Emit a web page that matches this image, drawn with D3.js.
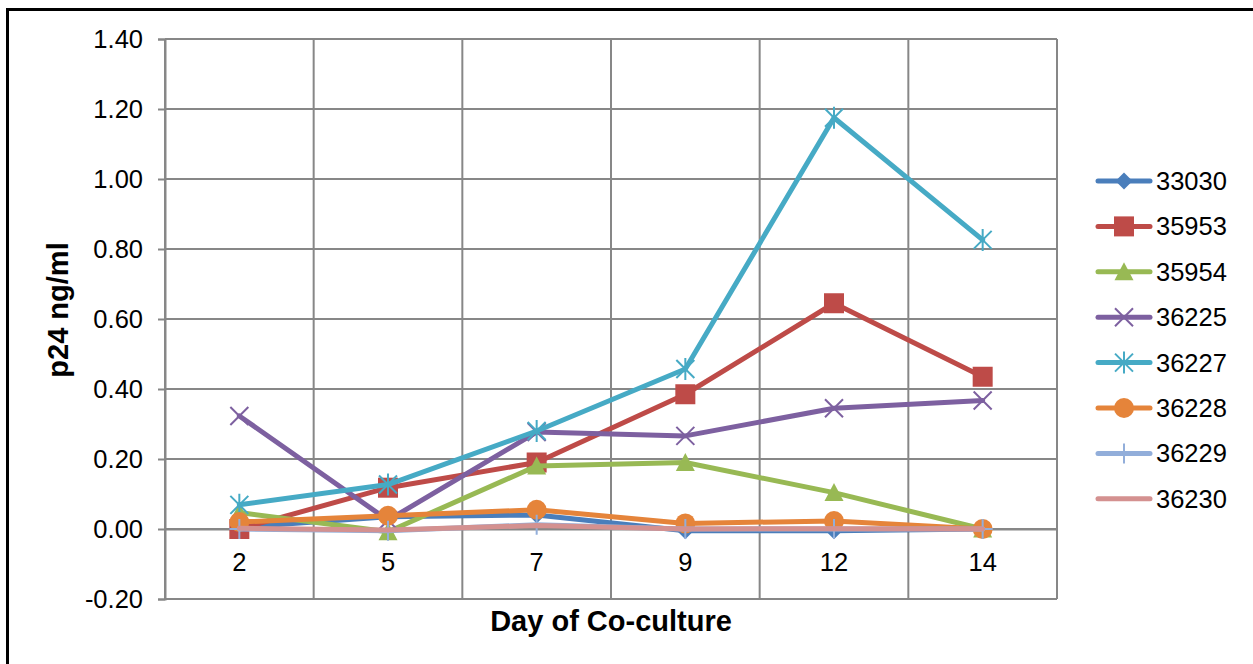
<!DOCTYPE html>
<html>
<head>
<meta charset="utf-8">
<script src="https://cdn.jsdelivr.net/npm/d3@7"></script>
<style>
  html, body { margin: 0; padding: 0; background: #fff; }
  svg { display: block; }
  text { font-family: "Liberation Sans", Arial, sans-serif; fill: #000; }
</style>
</head>
<body>
<svg id="chart" width="1253" height="664"></svg>
<script>
// Days of co-culture (category axis)
const days = ["2", "5", "7", "9", "12", "14"];

// p24 concentration (ng/ml) per sample
const s33030 = [0.005, 0.035, 0.040, -0.005, -0.005, 0.000];
const s35953 = [0.000, 0.118, 0.190, 0.385, 0.645, 0.435];
const s35954 = [0.047, -0.008, 0.180, 0.190, 0.104, 0.000];
const s36225 = [0.323, 0.025, 0.277, 0.266, 0.345, 0.367];
const s36227 = [0.069, 0.127, 0.280, 0.457, 1.175, 0.826];
const s36228 = [0.020, 0.038, 0.055, 0.016, 0.023, 0.000];
const s36229 = [0.000, -0.005, 0.012, 0.000, 0.000, 0.000];
const s36230 = [0.002, -0.003, 0.010, 0.000, 0.001, 0.000];

const seriesNames = ["33030", "35953", "35954", "36225", "36227", "36228", "36229", "36230"];
const seriesValues = [s33030, s35953, s35954, s36225, s36227, s36228, s36229, s36230];
const seriesColors = ["#4A7EBB", "#BE4B48", "#98B954", "#7D60A0", "#46AAC5", "#E5843A", "#92AEDA", "#D49190"];
const seriesMarkers = ["diamond", "square", "triangle", "x", "star", "circle", "plus", "none"];

const yTicks = [-0.20, 0.00, 0.20, 0.40, 0.60, 0.80, 1.00, 1.20, 1.40];

const FONT = "Liberation Sans, Arial, sans-serif";
const svg = d3.select("#chart");

// outer chart frame (right/bottom edges fall outside the canvas)
svg.append("rect")
  .attr("x", 7.5).attr("y", 9.5)
  .attr("width", 1300).attr("height", 700)
  .attr("fill", "none").attr("stroke", "#000").attr("stroke-width", 3);

const plot = { left: 165, top: 39, right: 1057, bottom: 599 };

const x = d3.scaleBand().domain(days).range([plot.left, plot.right]).padding(0);
const y = d3.scaleLinear().domain([-0.2, 1.4]).range([plot.bottom, plot.top]);

const gridColor = "#878787";
const fmt = v => d3.format(".2f")(v).replace("\u2212", "-");

// horizontal gridlines
svg.append("g").selectAll("line").data(yTicks).join("line")
  .attr("x1", plot.left).attr("x2", plot.right)
  .attr("y1", d => y(d)).attr("y2", d => y(d))
  .attr("stroke", gridColor).attr("stroke-width", 2);

// vertical gridlines at category boundaries
const bounds = days.map(d => x(d)).concat([plot.right]);
svg.append("g").selectAll("line").data(bounds).join("line")
  .attr("x1", d => d).attr("x2", d => d)
  .attr("y1", plot.top).attr("y2", plot.bottom)
  .attr("stroke", gridColor).attr("stroke-width", 2);

// value axis
const yAxis = d3.axisLeft(y).tickValues(yTicks).tickFormat(fmt)
  .tickSize(7).tickPadding(15);
const gy = svg.append("g").attr("transform", `translate(${plot.left},0)`).call(yAxis);
gy.select(".domain").attr("stroke", gridColor).attr("stroke-width", 2);
gy.selectAll(".tick line").attr("stroke", gridColor).attr("stroke-width", 2);
gy.selectAll(".tick text").style("font-size", "25.5px").style("font-family", FONT).attr("fill", "#000");

// category labels below the zero line
const xAxis = d3.axisBottom(x).tickSize(0).tickPadding(24);
const gx = svg.append("g").attr("transform", `translate(0,${y(0)})`).call(xAxis);
gx.select(".domain").attr("stroke", gridColor).attr("stroke-width", 2);
gx.selectAll(".tick text").style("font-size", "25.5px").style("font-family", FONT).attr("fill", "#000");

// axis titles
svg.append("text")
  .attr("transform", "translate(68,310) rotate(-90)")
  .attr("text-anchor", "middle")
  .style("font-size", "29px").style("font-weight", "bold")
  .text("p24 ng/ml");
svg.append("text")
  .attr("x", 611).attr("y", 631)
  .attr("text-anchor", "middle")
  .style("font-size", "29px").style("font-weight", "bold")
  .text("Day of Co-culture");

// marker painter
function drawMarker(g, type, cx, cy, color) {
  switch (type) {
    case "diamond":
      g.append("path").attr("d", `M${cx},${cy-8.5}L${cx+8.5},${cy}L${cx},${cy+8.5}L${cx-8.5},${cy}Z`).attr("fill", color);
      break;
    case "square":
      g.append("rect").attr("x", cx-10).attr("y", cy-10).attr("width", 20).attr("height", 20).attr("fill", color);
      break;
    case "triangle":
      g.append("path").attr("d", `M${cx},${cy-9.5}L${cx+9.5},${cy+8.5}L${cx-9.5},${cy+8.5}Z`).attr("fill", color);
      break;
    case "x":
      g.append("path").attr("d", `M${cx-9},${cy-9}L${cx+9},${cy+9}M${cx-9},${cy+9}L${cx+9},${cy-9}`)
        .attr("stroke", color).attr("stroke-width", 2).attr("fill", "none");
      break;
    case "star":
      g.append("path").attr("d", `M${cx-9},${cy-9}L${cx+9},${cy+9}M${cx-9},${cy+9}L${cx+9},${cy-9}M${cx},${cy-11}L${cx},${cy+11}`)
        .attr("stroke", color).attr("stroke-width", 2).attr("fill", "none");
      break;
    case "circle":
      g.append("circle").attr("cx", cx).attr("cy", cy).attr("r", 10).attr("fill", color);
      break;
    case "plus":
      g.append("path").attr("d", `M${cx},${cy-10}L${cx},${cy+10}M${cx-10},${cy}L${cx+10},${cy}`)
        .attr("stroke", color).attr("stroke-width", 2).attr("fill", "none");
      break;
  }
}

const line = d3.line()
  .x((d, i) => x(days[i]) + x.bandwidth() / 2)
  .y(d => y(d));

const seriesG = svg.append("g");
seriesNames.forEach((name, si) => {
  const g = seriesG.append("g");
  const vals = seriesValues[si];
  g.append("path").datum(vals)
    .attr("d", line)
    .attr("fill", "none")
    .attr("stroke", seriesColors[si])
    .attr("stroke-width", 5)
    .attr("stroke-linejoin", "round")
    .attr("stroke-linecap", "round");
  vals.forEach((v, i) => drawMarker(g, seriesMarkers[si], x(days[i]) + x.bandwidth() / 2, y(v), seriesColors[si]));
});

// legend
const legend = svg.append("g");
seriesNames.forEach((name, si) => {
  const ly = 181 + si * 45.4;
  const g = legend.append("g");
  g.append("line").attr("x1", 1098).attr("x2", 1150).attr("y1", ly).attr("y2", ly)
    .attr("stroke", seriesColors[si]).attr("stroke-width", 5).attr("stroke-linecap", "round");
  drawMarker(g, seriesMarkers[si], 1124, ly, seriesColors[si]);
  g.append("text").attr("x", 1156).attr("y", ly + 9)
    .style("font-size", "25.5px").text(name);
});
</script>
</body>
</html>
